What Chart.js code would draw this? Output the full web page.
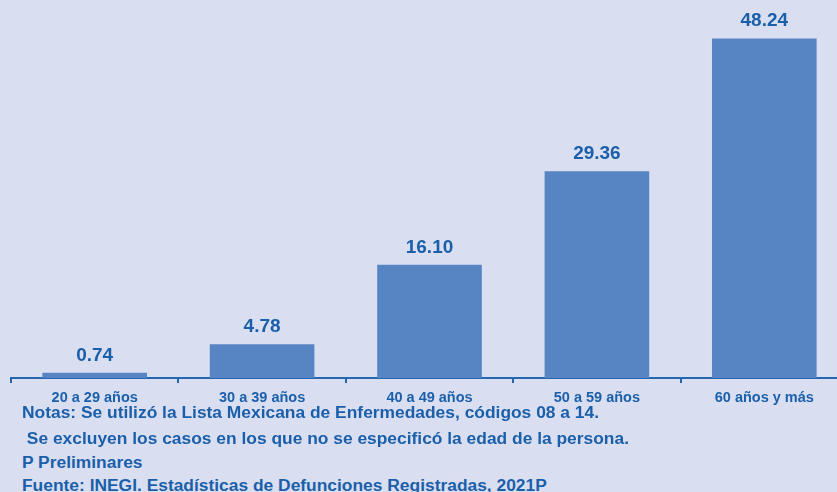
<!DOCTYPE html>
<html>
<head>
<meta charset="utf-8">
<script src="https://cdn.jsdelivr.net/npm/chart.js@4"></script>
<style>
  html, body { margin: 0; padding: 0; background: #d9dff0; overflow: hidden; }
  #wrap { position: absolute; left: 0; top: 0; width: 860px; height: 410px; }
  .nota { position: absolute; left: 22px; font: bold 17.4px "Liberation Sans", Arial, sans-serif; color: #1b5fab; white-space: pre; }
</style>
</head>
<body>
<div id="wrap"><canvas id="myChart" width="860" height="410"></canvas></div>
<div class="nota" style="top:402px">Notas: Se utilizó la Lista Mexicana de Enfermedades, códigos 08 a 14.</div>
<div class="nota" style="top:428px"> Se excluyen los casos en los que no se especificó la edad de la persona.</div>
<div class="nota" style="top:452px">P Preliminares</div>
<div class="nota" style="top:475px">Fuente: INEGI. Estadísticas de Defunciones Registradas, 2021P</div>
<script>
var ctx = document.getElementById("myChart");
var labelForChart = ["20 a 29 años","30 a 39 años","40 a 49 años","50 a 59 años","60 años y más"];
var dataForChart = [0.74, 4.78, 16.10, 29.36, 48.24];

var textColor = "#1b5fab";
var axisColor = "#2466b0";

// numbers above each bar
var valueLabels = {
  id: "valueLabels",
  afterDatasetsDraw: function(chart){
    var c = chart.ctx;
    var meta = chart.getDatasetMeta(0);
    c.save();
    c.font = "bold 19px 'Liberation Sans', Arial, sans-serif";
    c.fillStyle = textColor;
    c.textAlign = "center";
    c.textBaseline = "alphabetic";
    meta.data.forEach(function(bar, i){
      c.fillText(dataForChart[i].toFixed(2), bar.x, bar.y - 12);
    });
    c.restore();
  }
};

var chart = new Chart(ctx, {
  type: 'bar',
  data: {
    labels: labelForChart,
    datasets: [{
      data: dataForChart,
      backgroundColor: "#5784c3",
      borderWidth: 0,
      barPercentage: 0.625,
      categoryPercentage: 1
    }]
  },
  options: {
    responsive: false,
    animation: false,
    layout: { padding: { left: 11, right: 12, top: 26, bottom: 2 } },
    plugins: { legend: { display: false }, tooltip: { enabled: false } },
    scales: {
      x: {
        afterFit: function(scale){ scale.height = 30; },
        border: { color: axisColor, width: 2 },
        grid: { offset: true, drawOnChartArea: false, color: axisColor, lineWidth: 2, tickLength: 5 },
        ticks: { color: textColor, padding: 6, font: { family: "'Liberation Sans', Arial, sans-serif", size: 14.5, weight: "bold" } }
      },
      y: {
        display: false,
        min: 0,
        max: 50
      }
    }
  },
  plugins: [valueLabels]
});
</script>
</body>
</html>
